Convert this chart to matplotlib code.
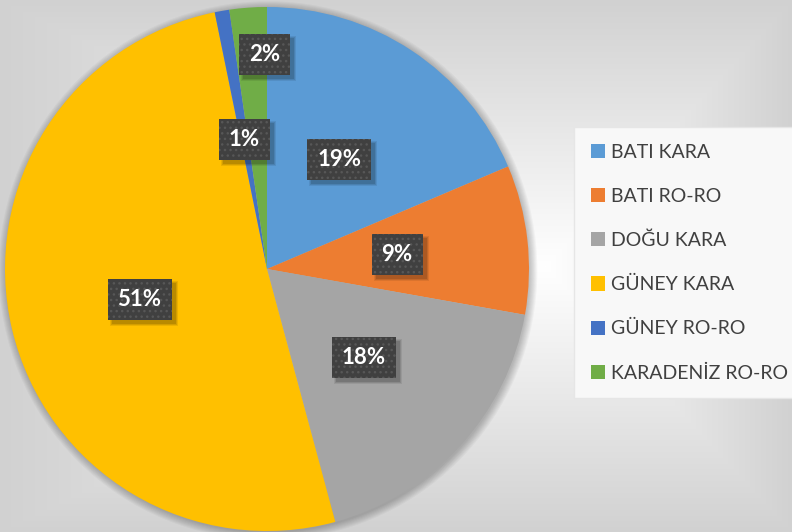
import numpy as np
import matplotlib
matplotlib.use('Agg')
import matplotlib.pyplot as plt
from matplotlib.patches import Patch, Circle, Rectangle
import matplotlib.transforms as mtransforms

categories = ['BATI KARA', 'BATI RO-RO', 'DOĞU KARA', 'GÜNEY KARA', 'GÜNEY RO-RO', 'KARADENİZ RO-RO']
values = [18.6, 9.2, 18.0, 51.0, 0.9, 2.3]
colors = ['#5B9BD5', '#ED7D31', '#A5A5A5', '#FFC000', '#4472C4', '#70AD47']

plt.rcParams['font.family'] = ['Lato', 'DejaVu Sans']

W, H = 792, 532
fig = plt.figure(figsize=(W / 100, H / 100), dpi=100)

# background gradient
bg = fig.add_axes([0, 0, 1, 1])
bg.axis('off')
yy, xx = np.mgrid[0:H, 0:W].astype(float)
cx, cy = 545.0, 266.0
dx = np.where(xx < cx, (cx - xx) / cx, (xx - cx) / (W - cx))
dy = np.where(yy < cy, (cy - yy) / cy, (yy - cy) / (H - cy))
t = np.clip(np.maximum(dx, dy), 0, 1)
val = 1.0 - t * (1 - 0.82)
bg.imshow(np.dstack([val] * 3), extent=(0, 1, 0, 1), aspect='auto', origin='upper')
bg.set_xlim(0, 1)
bg.set_ylim(0, 1)

# pie axes
pcx, pcy, R = 267, 269, 262
ax = fig.add_axes([(pcx - R) / W, (H - pcy - R) / H, 2 * R / W, 2 * R / H])
ax.axis('off')

# soft shadow behind pie
for i in range(8):
    ax.add_patch(Circle((0.004, -0.006), 1.0 + 0.004 * i, facecolor='black',
                        edgecolor='none', alpha=0.03, zorder=0, clip_on=False))

wedges, texts, autotexts = ax.pie(
    values, colors=colors, startangle=90, counterclock=False,
    autopct=lambda p: f'{p:.0f}%', pctdistance=0.5, radius=1,
    wedgeprops=dict(linewidth=0),
    textprops=dict(color='white', fontsize=16, fontweight='bold'))
ax.set_xlim(-1, 1)
ax.set_ylim(-1, 1)
ax.set_aspect('equal')

# move small last label outward
w = wedges[-1]
mid = np.deg2rad((w.theta1 + w.theta2) / 2)
autotexts[-1].set_position((0.82 * np.cos(mid) + 0.05, 0.82 * np.sin(mid)))

for at in autotexts:
    at.set_bbox(dict(boxstyle='square,pad=0.45', facecolor='#404040',
                     edgecolor='#575757', hatch='...', linewidth=0))

handles = [Patch(facecolor=c, edgecolor='none') for c in colors]
leg = fig.legend(handles, categories, loc='upper left',
                 bbox_to_anchor=(574 / W, 1 - 127 / H), bbox_transform=fig.transFigure,
                 frameon=True, fancybox=False, edgecolor='#e6e6e6', facecolor='#f8f8f8',
                 framealpha=1, prop=dict(family=['Lato', 'DejaVu Sans'], size=14),
                 handlelength=0.75, handleheight=0.75, handletextpad=0.3,
                 labelspacing=1.39, borderpad=0.85, borderaxespad=0, labelcolor='#404040')

# drop shadows for the label boxes (pixel-space rectangles)
fig.canvas.draw()
for at in autotexts:
    bb = at.get_bbox_patch().get_window_extent()
    for k, a in [(0, 0.12), (1, 0.1), (2, 0.08)]:
        ax.add_patch(Rectangle((bb.x0 + 4 - k, bb.y0 - 4 - k), bb.width + 2 * k, bb.height + 2 * k,
                               transform=mtransforms.IdentityTransform(),
                               facecolor='black', edgecolor='none', alpha=a,
                               zorder=at.get_zorder() - 0.5))

fig.savefig('out.png', dpi=100)
